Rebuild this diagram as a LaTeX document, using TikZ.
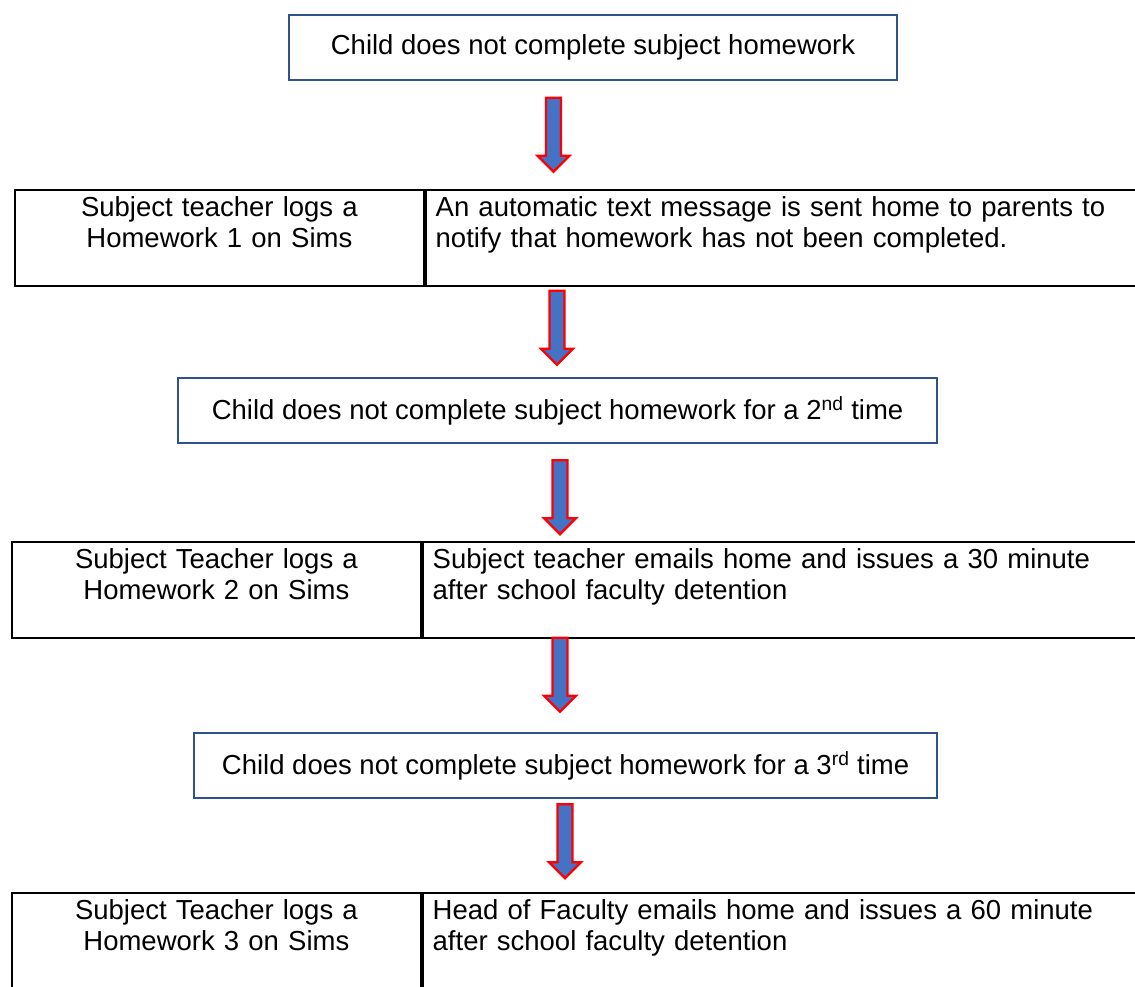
\documentclass[tikz,border=0pt]{standalone}
\usepackage{fontspec}
\setmainfont{Liberation Sans}
\usetikzlibrary{shapes.arrows}
\definecolor{boxblue}{HTML}{2F528F}
\definecolor{arrowfill}{HTML}{4472C4}

\begin{document}
\begin{tikzpicture}[x=1pt,y=-1pt,
    font=\fontsize{27.5}{31}\selectfont,
    stepbox/.style={draw=boxblue, line width=2pt, inner sep=0pt, align=center, minimum height=65pt},
    leftcell/.style={draw=black, line width=1.8pt, anchor=north west, align=center,
        text width=385pt, inner xsep=12pt, inner ysep=7pt, text height=20pt, text depth=62pt},
    rightcell/.style={draw=black, line width=1.8pt, anchor=north west, align=left,
        text width=700pt, inner xsep=10pt, inner ysep=7pt, text height=20pt, text depth=62pt},
    downarrow/.style={single arrow, draw=red, fill=arrowfill, line width=2.2pt,
        shape border rotate=270, minimum height=74pt, minimum width=32pt,
        single arrow head extend=8pt, inner sep=6pt}]
    \useasboundingbox (0,0) rectangle (1135,986);
    \clip (0,0) rectangle (1135,986);

    % first time
    \node[stepbox, minimum width=608pt] (first) at (593,47) {Child does not complete subject homework};
    \node[downarrow] (a1) at (553.5,131) {};
    \node[leftcell] (log1) at (14,189) {Subject teacher logs a\\Homework 1 on Sims};
    \node[rightcell] (text1) at (log1.north east) {An automatic text message is sent home to parents to\\notify that homework has not been completed.};
    \node[downarrow] (a2) at (557,324) {};

    % second time
    \node[stepbox, minimum width=759pt] (second) at (557.5,410.5) {Child does not complete subject homework for a 2\textsuperscript{nd} time};
    \node[downarrow] (a3) at (560,493.5) {};
    \node[leftcell] (log2) at (11,541) {Subject Teacher logs a\\Homework 2 on Sims};
    \node[rightcell] (email2) at (log2.north east) {Subject teacher emails home and issues a 30 minute\\after school faculty detention};
    \node[downarrow] (a4) at (560,671) {};

    % third time
    \node[stepbox, minimum width=743pt] (third) at (565.5,765.5) {Child does not complete subject homework for a 3\textsuperscript{rd} time};
    \node[downarrow] (a5) at (565,837.5) {};
    \node[leftcell] (log3) at (11,892) {Subject Teacher logs a\\Homework 3 on Sims};
    \node[rightcell] (email3) at (log3.north east) {Head of Faculty emails home and issues a 60 minute\\after school faculty detention};
\end{tikzpicture}
\end{document}
